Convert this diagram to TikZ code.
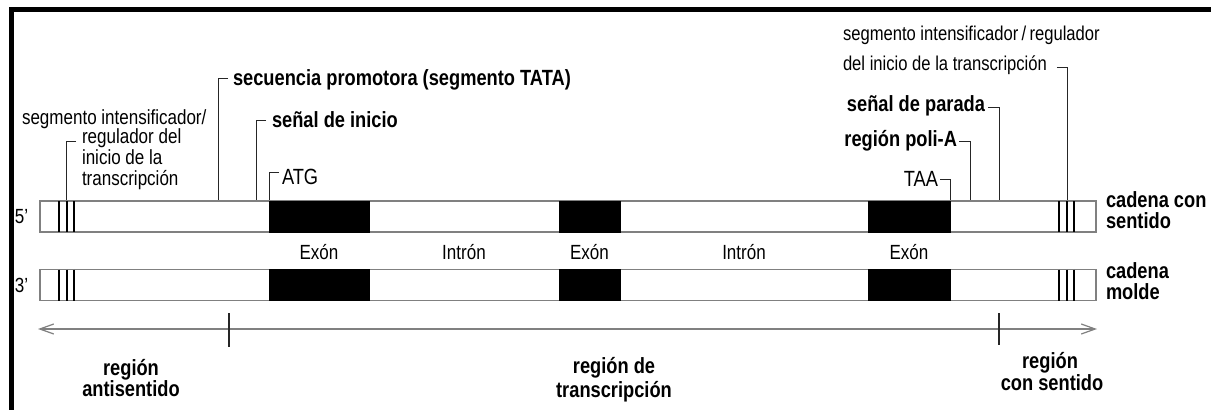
\documentclass[tikz,border=0pt]{standalone}
\usepackage{fontspec}
\setmainfont{Liberation Sans}[FakeStretch=0.83]
\usetikzlibrary{arrows.meta}
\newcommand\lblnormal{\fontsize{20.5}{21}\selectfont}
\newcommand\lblsmall{\fontsize{20}{21}\selectfont}
\newcommand\lblbold{\fontsize{22}{23}\selectfont\bfseries}
\newcommand\lblcap{\fontsize{22}{23}\selectfont}
\tikzset{
  lbl/.style={inner sep=0pt, outer sep=0pt, font=\lblnormal},
  slbl/.style={inner sep=0pt, outer sep=0pt, font=\lblsmall},
  blbl/.style={inner sep=0pt, outer sep=0pt, font=\lblbold},
  clbl/.style={inner sep=0pt, outer sep=0pt, font=\lblcap},
  strand/.style={draw=black!50, line width=1.3pt, fill=white, inner sep=0pt,
    minimum width=1056pt, minimum height=31pt},
  exon/.style={draw=black, fill=black, inner sep=0pt, minimum height=31pt},
  bar/.style={draw=black, line width=2pt},
  lead/.style={draw=black!85, line width=1pt},
  axis/.style={draw=black!50, line width=1.2pt,
    {Straight Barb[length=14pt,width=10pt]}-{Straight Barb[length=14pt,width=10pt]}},
  tick/.style={draw=black!85, line width=1.1pt},
}
\begin{document}
\begin{tikzpicture}[x=1pt,y=-1pt]
\useasboundingbox (0,0) rectangle (1211,410);
\fill[white] (0,0) rectangle (1211,410);
% frame
\fill[black] (9,7) rectangle (1211,11.5);
\fill[black] (9,7) rectangle (14,410);

% strands
\node[strand] (s1) at (568,216.5) {};
\node[strand] (s2) at (568,285) {};
% exons
\node[exon, minimum width=100pt] (e1a) at (319,216.5) {};
\node[exon, minimum width=61pt] (e2a) at (589.5,216.5) {};
\node[exon, minimum width=82pt] (e3a) at (909,216.5) {};
\node[exon, minimum width=100pt] (e1b) at (319,285) {};
\node[exon, minimum width=61pt] (e2b) at (589.5,285) {};
\node[exon, minimum width=82pt] (e3b) at (909,285) {};
% enhancer bars
\foreach \xx in {59,66.5,74,1059,1067,1074}{
  \draw[bar] (\xx,201) -- (\xx,232);
  \draw[bar] (\xx,269.5) -- (\xx,300.5);
}

% strand end labels
\node[lbl, anchor=west] (p5) at (15,216.5) {5'};
\node[lbl, anchor=west] (p3) at (15,285) {3'};
\node[blbl, anchor=base west] (c1a) at (1106,207) {cadena con};
\node[blbl, anchor=base west] (c1b) at (1106,228) {sentido};
\node[blbl, anchor=base west] (c2a) at (1106,278) {cadena};
\node[blbl, anchor=base west] (c2b) at (1106,299) {molde};

% exon / intron labels
\node[lbl, anchor=base] (x1) at (319,259) {Exón};
\node[lbl, anchor=base] (i1) at (464,259) {Intrón};
\node[lbl, anchor=base] (x2) at (589.5,259) {Exón};
\node[lbl, anchor=base] (i2) at (744,259) {Intrón};
\node[lbl, anchor=base] (x3) at (909,259) {Exón};

% attachment points on the sense strand
\coordinate (pEnhL) at (66.5,200);
\coordinate (pTata) at (218,200);
\coordinate (pIni) at (256,200);
\coordinate (pAtg) at (269,200);
\coordinate (pTaa) at (950,200);
\coordinate (pPol) at (970.5,200);
\coordinate (pPar) at (999,200);
\coordinate (pEnhR) at (1067,200);

% left labels
\node[lbl, anchor=base west] (n1) at (22,124) {segmento intensificador/};
\node[lbl, anchor=base west] (n2) at (82,143) {regulador del};
\node[lbl, anchor=base west] (n3) at (82,164) {inicio de la};
\node[lbl, anchor=base west] (n4) at (82,185) {transcripción};
\draw[lead] ([xshift=-6pt,yshift=2pt]n2.base west) -| (pEnhL);

\node[blbl, anchor=base west] (seq) at (233,85) {secuencia promotora (segmento TATA)};
\draw[lead] ([xshift=-5pt,yshift=7pt]seq.base west) -| (pTata);

\node[blbl, anchor=base west] (ini) at (272,127) {señal de inicio};
\draw[lead] ([xshift=-6pt,yshift=7pt]ini.base west) -| (pIni);

\node[clbl, anchor=base west] (atg) at (282,184) {ATG};
\draw[lead] ([xshift=-3pt,yshift=12pt]atg.base west) -| (pAtg);

% right labels
\node[slbl, anchor=base west] (r1) at (843,40) {segmento intensificador\,/\,regulador};
\node[slbl, anchor=base west] (r2) at (843,70) {del inicio de la transcripción};
\draw[lead] ([xshift=10pt,yshift=3pt]r2.base east) -| (pEnhR);

\node[blbl, anchor=base east] (par) at (985,111) {señal de parada};
\draw[lead] ([xshift=3pt,yshift=4pt]par.base east) -| (pPar);

\node[blbl, anchor=base east] (pol) at (957,146) {región poli-A};
\draw[lead] ([xshift=2pt,yshift=5pt]pol.base east) -| (pPol);

\node[clbl, anchor=base east] (taa) at (938,186) {TAA};
\draw[lead] ([xshift=2pt,yshift=7pt]taa.base east) -| (pTaa);

% region axis
\coordinate (arL) at (38,329);
\coordinate (arR) at (1097,329);
\draw[axis] (arL) -- (arR);
\coordinate (t1a) at (229,313);
\coordinate (t1b) at (229,347);
\coordinate (t2a) at (999,313);
\coordinate (t2b) at (999,345);
\draw[tick] (t1a) -- (t1b);
\draw[tick] (t2a) -- (t2b);

% region labels
\node[blbl, anchor=base] (b1a) at (131,375) {región};
\node[blbl, anchor=base] (b1b) at (131,396) {antisentido};
\node[blbl, anchor=base] (b2a) at (614,373) {región de};
\node[blbl, anchor=base] (b2b) at (614,397) {transcripción};
\node[blbl, anchor=base] (b3a) at (1050,368) {región};
\node[blbl, anchor=base] (b3b) at (1052,390) {con sentido};
\end{tikzpicture}
\end{document}
